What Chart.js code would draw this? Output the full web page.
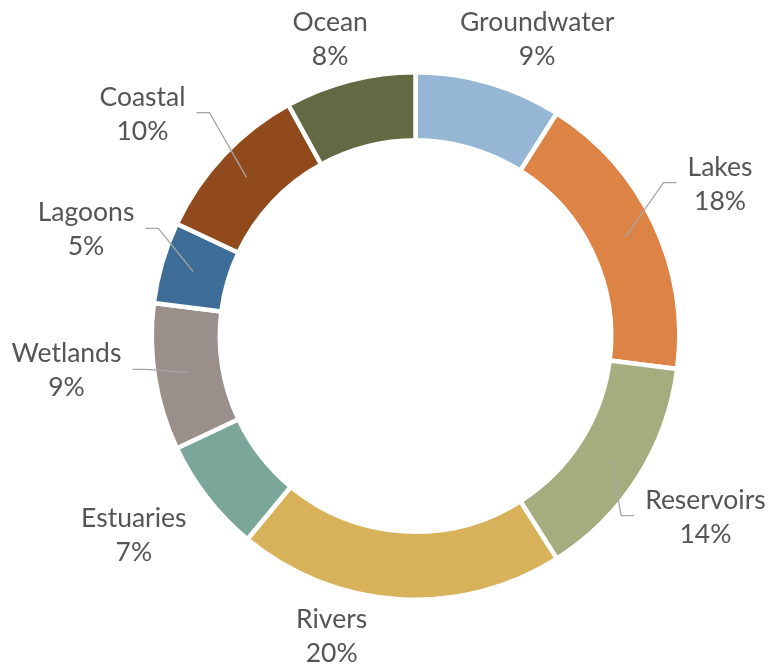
<!DOCTYPE html>
<html>
<head>
<meta charset="utf-8">
<title>Water body types</title>
<script src="https://cdn.jsdelivr.net/npm/chart.js@4/dist/chart.umd.min.js"></script>
<style>
  html, body { margin: 0; padding: 0; background: #fff; }
  #wrap { width: 771px; height: 670px; position: relative; }
</style>
</head>
<body>
<div id="wrap"><canvas id="donut"></canvas></div>
<script>
// Share of each water body type (%), clockwise from the top
const categories = ['Groundwater', 'Lakes', 'Reservoirs', 'Rivers', 'Estuaries', 'Wetlands', 'Lagoons', 'Coastal', 'Ocean'];
const shares = [9, 18, 14, 20, 7, 9, 5, 10, 8];
const colours = ['#95b6d4', '#de8346', '#a5ad7f', '#d8b25b', '#7ba79a', '#9b8f8c', '#3e6e98', '#914a1c', '#636a43'];

// where each label sits: angle shift (deg) from the slice middle, distance in outer radii
const labelShift = [6.7, 0, 0.8, 11.6, 1.3, 1.9, 0.3, -5.2, -2.1];
const labelDist = [1.195, 1.287, 1.325, 1.223, 1.34, 1.345, 1.314, 1.325, 1.149];
const hasLeader = [false, true, true, false, false, true, true, true, false];

const FONT = '26.5px Lato, "Open Sans", sans-serif';

const outsideLabels = {
  id: 'outsideLabels',
  afterDatasetsDraw(chart) {
    const ctx = chart.ctx;
    const arcs = chart.getDatasetMeta(0).data;
    ctx.save();
    ctx.font = FONT;
    arcs.forEach((arc, i) => {
      const { x, y, startAngle, endAngle, innerRadius, outerRadius } =
        arc.getProps(['x', 'y', 'startAngle', 'endAngle', 'innerRadius', 'outerRadius'], true);
      const mid = (startAngle + endAngle) / 2;
      const R = outerRadius - 2.25;
      const la = mid + labelShift[i] * Math.PI / 180;
      const cx = x + Math.cos(la) * R * labelDist[i];
      const cy = y + Math.sin(la) * R * labelDist[i];

      const line1 = categories[i];
      const line2 = shares[i] + '%';
      const w = Math.max(ctx.measureText(line1).width, ctx.measureText(line2).width);

      if (hasLeader[i]) {
        const rm = (innerRadius + outerRadius) / 2 + 2;
        const ax = x + Math.cos(mid) * rm;
        const ay = y + Math.sin(mid) * rm;
        const side = cx > x ? -1 : 1; // leader comes in from the chart side
        const ex = cx + side * (w / 2 + 11);
        const ey = cy - 10;
        const bx = ex + side * 13;
        ctx.strokeStyle = '#a6a6a6';
        ctx.lineWidth = 1.3;
        ctx.beginPath();
        ctx.moveTo(ax, ay);
        ctx.lineTo(bx, ey);
        ctx.lineTo(ex, ey);
        ctx.stroke();
      }

      ctx.fillStyle = '#555555';
      ctx.textAlign = 'center';
      ctx.textBaseline = 'alphabetic';
      ctx.fillText(line1, cx, cy - 17);
      ctx.fillText(line2, cx, cy + 17);
    });
    ctx.restore();
  }
};

new Chart(document.getElementById('donut'), {
  type: 'doughnut',
  data: {
    labels: categories,
    datasets: [{
      data: shares,
      backgroundColor: colours,
      borderColor: '#ffffff',
      borderWidth: 4.5
    }]
  },
  options: {
    responsive: true,
    maintainAspectRatio: false,
    animation: false,
    cutout: '74.2%',
    layout: { padding: { left: 149.5, right: 89.5, top: 70, bottom: 68 } },
    plugins: {
      legend: { display: false },
      tooltip: { enabled: false }
    }
  },
  plugins: [outsideLabels]
});
</script>
</body>
</html>
